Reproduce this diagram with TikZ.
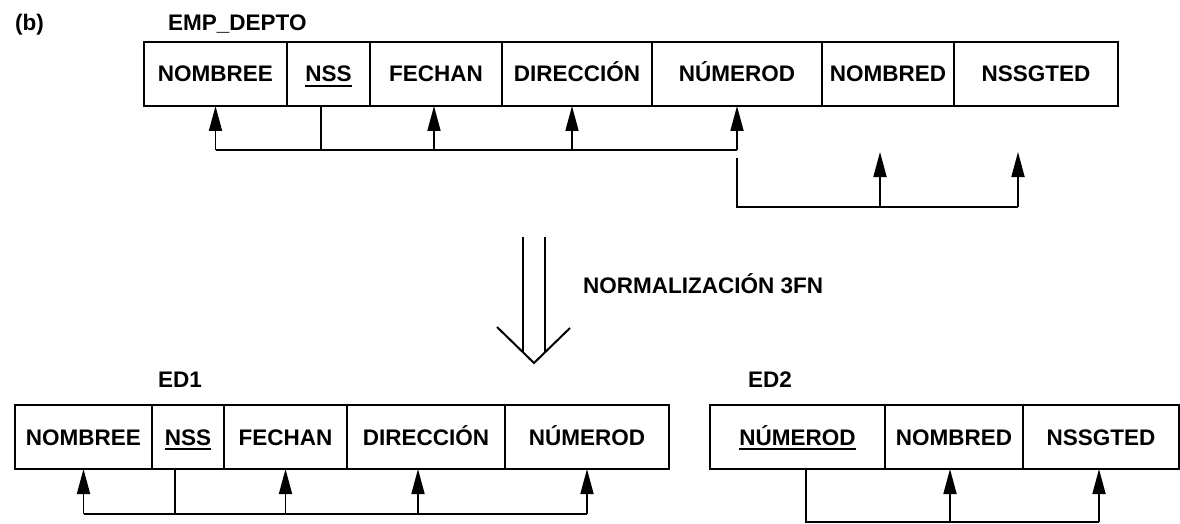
\documentclass[tikz,border=0pt]{standalone}
\usepackage{fontspec}
\setmainfont{Liberation Sans}
\usetikzlibrary{arrows.meta}
\usetikzlibrary{positioning}

\newcommand{\llave}[1]{\setbox0\hbox{#1}\rlap{\rule[-5pt]{\wd0}{1.8pt}}\box0}

\begin{document}
\begin{tikzpicture}
    [x=1pt, y=-1pt,
     cell/.style={rectangle, draw, line width=1.8pt, minimum height=64pt, inner sep=0pt, outer sep=0pt, text height=16pt, text depth=0pt, font=\fontsize{22.5pt}{27pt}\selectfont\bfseries},
     lbl/.style={anchor=west, inner sep=0pt, text height=16pt, text depth=0pt, font=\fontsize{22.5pt}{27pt}\selectfont\bfseries},
     fd/.style={line width=1.7pt},
     dep/.style={fd, -{Triangle[length=25pt, width=13pt]}}]

    \useasboundingbox (0,0) rectangle (1180,524);

    \node [lbl] (b) at (15,23) {(b)};
    \node [lbl] (emp) at (168,23) {EMP\_DEPTO};

    % relation before normalising
    \node [cell, minimum width=143pt] (nombree1) at (215.5,74) {NOMBREE};
    \node [cell, minimum width=83pt, right=0pt of nombree1] (nss1) {\llave{NSS}};
    \node [cell, minimum width=132pt, right=0pt of nss1] (fechan1) {FECHAN};
    \node [cell, minimum width=150pt, right=0pt of fechan1] (dir1) {DIRECCIÓN};
    \node [cell, minimum width=170pt, right=0pt of dir1] (numerod1) {NÚMEROD};
    \node [cell, minimum width=132pt, right=0pt of numerod1] (nombred1) {NOMBRED};
    \node [cell, minimum width=164pt, right=0pt of nombred1] (nssgted1) {NSSGTED};

    \coordinate (fd1) at (0,150);
    \coordinate (td1) at (0,158);
    \coordinate (td2) at (0,207);
    \coordinate (tp1) at (0,152);

    \draw [fd] (nombree1.south |- fd1) -- (numerod1.south |- fd1);
    \draw [fd] ([xshift=-7.5pt] nss1.south) -- ([xshift=-7.5pt] nss1.south |- fd1);
    \draw [dep] (nombree1.south |- fd1) -- (nombree1.south);
    \draw [dep] ([xshift=-2pt] fechan1.south |- fd1) -- ([xshift=-2pt] fechan1.south);
    \draw [dep] ([xshift=-5pt] dir1.south |- fd1) -- ([xshift=-5pt] dir1.south);
    \draw [dep] (numerod1.south |- fd1) -- (numerod1.south);

    \draw [fd] (numerod1.south |- td1) |- ([xshift=-18pt] nssgted1.south |- td2);
    \draw [dep] ([xshift=-8pt] nombred1.south |- td2) -- ([xshift=-8pt] nombred1.south |- tp1);
    \draw [dep] ([xshift=-18pt] nssgted1.south |- td2) -- ([xshift=-18pt] nssgted1.south |- tp1);

    % normalisation arrow
    \coordinate (n1) at (523,237);
    \coordinate (n2) at (545,237);
    \coordinate (tip) at (534,363);
    \draw [fd] (n1) -- (523,352);
    \draw [fd] (n2) -- (545,352);
    \draw [fd, line width=2pt] (497,327) -- (tip) -- (570,328);
    \node [lbl] (norm) at (583,285) {NORMALIZACIÓN 3FN};

    % ED1
    \node [lbl] (ed1) at (158,379) {ED1};
    \node [cell, minimum width=137pt] (nombree2) at (83.5,437) {NOMBREE};
    \node [cell, minimum width=72pt, right=0pt of nombree2] (nss2) {\llave{NSS}};
    \node [cell, minimum width=123pt, right=0pt of nss2] (fechan2) {FECHAN};
    \node [cell, minimum width=158pt, right=0pt of fechan2] (dir2) {DIRECCIÓN};
    \node [cell, minimum width=164pt, right=0pt of dir2] (numerod2) {NÚMEROD};

    \coordinate (fd3) at (0,514);
    \draw [fd] (nombree2.south |- fd3) -- (numerod2.south |- fd3);
    \draw [fd] ([xshift=-13pt] nss2.south) -- ([xshift=-13pt] nss2.south |- fd3);
    \draw [dep] (nombree2.south |- fd3) -- (nombree2.south);
    \draw [dep] (fechan2.south |- fd3) -- (fechan2.south);
    \draw [dep] ([xshift=-8pt] dir2.south |- fd3) -- ([xshift=-8pt] dir2.south);
    \draw [dep] (numerod2.south |- fd3) -- (numerod2.south);

    % ED2
    \node [lbl] (ed2) at (748,379) {ED2};
    \node [cell, minimum width=175pt] (numerod3) at (797.5,437) {\llave{NÚMEROD}};
    \node [cell, minimum width=138pt, right=0pt of numerod3] (nombred3) {NOMBRED};
    \node [cell, minimum width=156pt, right=0pt of nombred3] (nssgted3) {NSSGTED};

    \coordinate (fd4) at (0,522);
    \draw [fd] ([xshift=8.5pt] numerod3.south) |- ([xshift=-2pt] nssgted3.south |- fd4);
    \draw [dep] ([xshift=-4pt] nombred3.south |- fd4) -- ([xshift=-4pt] nombred3.south);
    \draw [dep] ([xshift=-2pt] nssgted3.south |- fd4) -- ([xshift=-2pt] nssgted3.south);
\end{tikzpicture}
\end{document}
